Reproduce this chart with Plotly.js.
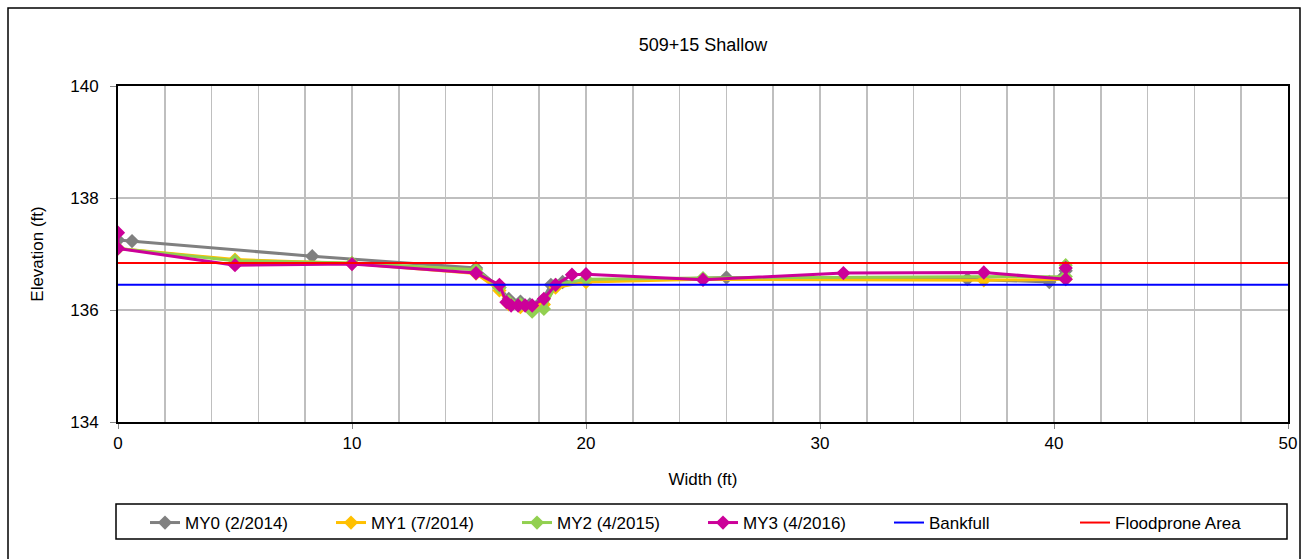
<!DOCTYPE html>
<html>
<head>
<meta charset="utf-8">
<script src="https://cdn.plot.ly/plotly-3.0.1.min.js"></script>
<style>html,body{margin:0;padding:0;background:#fff;}#chart{width:1308px;height:559px;}</style>
</head>
<body>
<div id="chart"></div>
<script>
// Data
const my0X = [0, 0.6, 8.3, 15.3, 16.3, 16.7, 17.2, 17.6, 18.1, 18.5, 19.0, 26.0, 36.3, 39.8, 40.4, 40.5];
const my0Y = [137.25, 137.23, 136.96, 136.75, 136.4, 136.2, 136.15, 136.1, 136.15, 136.45, 136.5, 136.58, 136.55, 136.5, 136.6, 136.7];

const my1X = [0, 5, 10, 15.3, 16.3, 16.7, 17.2, 17.7, 18.2, 18.7, 20, 25, 37, 40.5];
const my1Y = [137.1, 136.9, 136.83, 136.65, 136.35, 136.1, 136.05, 136.05, 136.1, 136.4, 136.5, 136.55, 136.53, 136.55];

const my2X = [0, 5, 10, 15.3, 16.3, 16.7, 17.2, 17.7, 18.2, 18.7, 20, 25, 40.5, 40.5];
const my2Y = [137.1, 136.88, 136.84, 136.72, 136.4, 136.15, 136.1, 135.97, 136.02, 136.45, 136.55, 136.57, 136.6, 136.8];

const my3X = [0, 0, 5, 10, 15.3, 16.3, 16.6, 16.8, 17.1, 17.4, 17.7, 18.2, 18.7, 19.4, 20, 25, 31, 37, 40.5, 40.5];
const my3Y = [137.38, 137.1, 136.8, 136.82, 136.66, 136.45, 136.14, 136.08, 136.08, 136.08, 136.08, 136.2, 136.45, 136.63, 136.64, 136.54, 136.66, 136.67, 136.55, 136.75];

const bankfullX = [0, 50];
const bankfullY = [136.45, 136.45];
const floodX = [0, 50];
const floodY = [136.84, 136.84];

const seriesNames = ["MY0 (2/2014)", "MY1 (7/2014)", "MY2 (4/2015)", "MY3 (4/2016)", "Bankfull", "Floodprone Area"];
const xTickVals = [0, 10, 20, 30, 40, 50];
const yTickVals = [134, 136, 138, 140];

const FONT = "Liberation Sans, Arial, sans-serif";

function surveyTrace(x, y, name, color) {
  return {
    x: x, y: y, name: name, type: "scatter", mode: "lines+markers",
    line: {color: color, width: 3},
    marker: {symbol: "diamond", size: 11, color: color}
  };
}

const traces = [
  surveyTrace(my0X, my0Y, seriesNames[0], "#808080"),
  surveyTrace(my1X, my1Y, seriesNames[1], "#FFC000"),
  surveyTrace(my2X, my2Y, seriesNames[2], "#92D050"),
  surveyTrace(my3X, my3Y, seriesNames[3], "#CC0099"),
  {x: bankfullX, y: bankfullY, name: seriesNames[4], type: "scatter", mode: "lines", line: {color: "#0000FF", width: 2}},
  {x: floodX, y: floodY, name: seriesNames[5], type: "scatter", mode: "lines", line: {color: "#FF0000", width: 2}}
];

const layout = {
  width: 1308, height: 559,
  margin: {l: 118, r: 20, t: 86, b: 137, autoexpand: false},
  paper_bgcolor: "#ffffff", plot_bgcolor: "#ffffff",
  font: {family: FONT, size: 17, color: "#000"},
  showlegend: true,
  title: {text: "509+15 Shallow", font: {family: FONT, size: 18, color: "#000"}, x: 0.5375, xanchor: "center", y: 0.92, yanchor: "middle"},
  xaxis: {
    range: [0, 50], tickvals: xTickVals, ticktext: xTickVals.map(String),
    showgrid: true, gridcolor: "#BFBFBF", gridwidth: 1.5,
    minor: {dtick: 2, showgrid: true, gridcolor: "#BFBFBF", gridwidth: 1.5},
    showline: true, linecolor: "#000", linewidth: 2, mirror: true,
    ticks: "outside", ticklen: 5, tickcolor: "#888",
    zeroline: false, automargin: false,
    tickfont: {family: FONT, size: 17},
    title: {text: "Width (ft)", font: {family: FONT, size: 17}, standoff: 21}
  },
  yaxis: {
    range: [134, 140], tickvals: yTickVals, ticktext: yTickVals.map(String),
    showgrid: true, gridcolor: "#BFBFBF", gridwidth: 1.5,
    showline: true, linecolor: "#000", linewidth: 2, mirror: true,
    ticks: "outside", ticklen: 6, tickcolor: "#888", ticklabelstandoff: 8,
    zeroline: false, automargin: false,
    tickfont: {family: FONT, size: 17},
    title: {text: "Elevation (ft)", font: {family: FONT, size: 17}, standoff: 22}
  },
  legend: {
    orientation: "h", x: 0.5, xanchor: "center", y: -0.247, yanchor: "top",
    borderwidth: 0, bgcolor: "rgba(0,0,0,0)",
    entrywidth: 141, entrywidthmode: "pixels",
    font: {family: FONT, size: 17}, itemclick: false
  },
  shapes: [
    {type: "rect", xref: "paper", yref: "paper",
     x0: (8 - 118) / 1170, x1: (1300 - 118) / 1170,
     y0: -(580 - 422) / 336, y1: 1 + (86 - 8) / 336,
     line: {color: "#000", width: 1.5}, fillcolor: "rgba(0,0,0,0)", layer: "below"},
    {type: "rect", xref: "paper", yref: "paper",
     x0: (116 - 118) / 1170, x1: (1287 - 118) / 1170,
     y0: -(539 - 422) / 336, y1: -(504 - 422) / 336,
     line: {color: "#000", width: 1.5}, fillcolor: "rgba(0,0,0,0)", layer: "below"}
  ]
};

Plotly.newPlot("chart", traces, layout, {displayModeBar: false, staticPlot: true});
</script>
</body>
</html>
